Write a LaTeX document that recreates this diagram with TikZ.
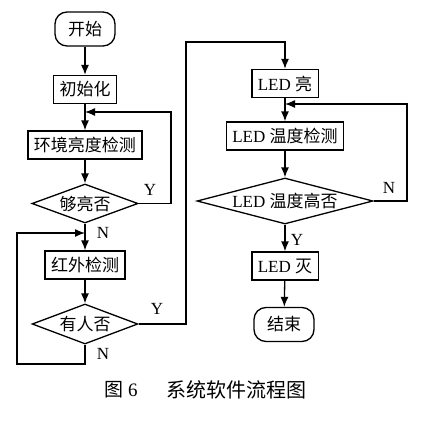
\documentclass[tikz,border=0pt]{standalone}
\usepackage{fontspec}
\setmainfont{Liberation Serif}
\newfontfamily\cjk{Noto Sans CJK SC}
\usetikzlibrary{shapes}
\usetikzlibrary{arrows.meta}
\usetikzlibrary{positioning}
\tikzset{
    Box/.style = {rectangle, draw=black, align=center, minimum height=28pt, inner xsep=6pt, inner ysep=2pt, font=\fontsize{17}{18}\selectfont}
}
\tikzset{
    Term/.style = {rectangle, rounded corners=12pt, draw=black, align=center, minimum width=60pt, minimum height=34pt, font=\cjk\fontsize{17}{18}\selectfont}
}
\tikzset{
    Decision/.style = {diamond, draw=black, aspect=3.5, inner sep=0pt, align=center, font=\fontsize{17}{18}\selectfont}
}
\tikzset{
    Edge/.style = {draw=black,line width=1.3pt,-{Latex[length=10pt,width=8pt]}}
}

\begin{document}
\begin{tikzpicture}[
    x=1pt, y=-1pt,
    line width=1.3pt,
    font=\fontsize{17}{18}\selectfont
]
\tikzset{
    Lbl/.style = {inner sep=0pt, font=\fontsize{17}{18}\selectfont},
}
\useasboundingbox (0,0) rectangle (429,434);
% left column
\node[Term] at (85,29) (start) {开始};
\node[Box] at (85,89.5) (init) {\cjk 初始化};
\node[Box] at (85,145) (light) {\cjk 环境亮度检测};
\node[Decision, minimum width=105pt, minimum height=39pt] at (85,203.5) (bright) {\cjk 够亮否};
\node[Box] at (85,265) (ir) {\cjk 红外检测};
\node[Decision, minimum width=105pt, minimum height=40pt] at (85,324) (person) {\cjk 有人否};
% right column
\node[Box] at (285,83.5) (ledon) {LED {\cjk 亮}};
\node[Box] at (285,136) (ledtemp) {LED {\cjk 温度检测}};
\node[Decision, minimum width=176pt, minimum height=46pt] at (285,201) (hot) {LED {\cjk 温度高否}};
\node[Box] at (285,266) (ledoff) {LED {\cjk 灭}};
\node[Term] at (284,324.5) (stop) {结束};
% joins and corners
\coordinate (j1) at (85,112);
\coordinate (j2) at (85,233);
\coordinate (j3) at (285,104);
\coordinate (r1) at (171,112);
\coordinate (r2) at (407,104);
\coordinate (u1) at (186,42);
\coordinate (b1) at (17,364);
% straight arrows
\path (start) edge [Edge] (init);
\path (init) edge [Edge] (light);
\path (light) edge [Edge] (bright);
\path (bright) edge [Edge] (ir);
\path (ir) edge [Edge] (person);
\path (ledon) edge [Edge] (ledtemp);
\path (ledtemp) edge [Edge] (hot);
\path (hot) edge [Edge] (ledoff);
\path (ledoff) edge [Edge] (stop);
% loops
\draw[Edge] (bright.east) -| (r1) -- (j1);
\draw[Edge] (person.south) |- (b1) |- (j2);
\draw[Edge] (person.east) -| (u1) -| (ledon.north);
\draw[Edge] (hot.east) -| (r2) -- (j3);
% labels
\node[Lbl] at (150,190) (yb) {Y};
\node[Lbl] at (103,233) (nb) {N};
\node[Lbl] at (157,309) (yp) {Y};
\node[Lbl] at (103,354) (np) {N};
\node[Lbl] at (389,188) (nh) {N};
\node[Lbl] at (297,240) (yh) {Y};
% caption
\node[font=\fontsize{19}{20}\selectfont] at (121,390) (fig) {{\cjk 图} 6};
\node[font=\cjk\fontsize{20}{20}\selectfont] at (236,390) (title) {系统软件流程图};
\end{tikzpicture}
\end{document}
